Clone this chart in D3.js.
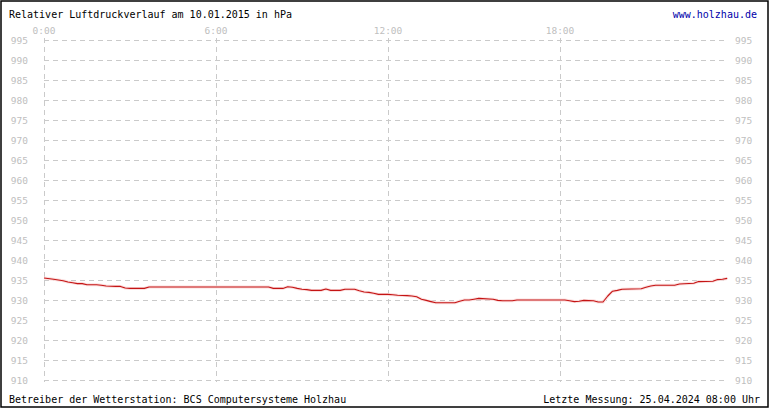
<!DOCTYPE html>
<html><head><meta charset="utf-8">
<script src="https://cdn.jsdelivr.net/npm/d3@7"></script>
<style>
html,body{margin:0;padding:0;background:#fff;}
svg{display:block;}
text{font-family:"DejaVu Sans Mono",monospace;}
</style></head>
<body>
<script>
const titleText = "Relativer Luftdruckverlauf am 10.01.2015 in hPa";
const siteText = "www.holzhau.de";
const footerLeft = "Betreiber der Wetterstation: BCS Computersysteme Holzhau";
const footerRight = "Letzte Messung: 25.04.2024 08:00 Uhr";
const xTickHours = [0, 6, 12, 18];
const xTickLabels = ["0:00", "6:00", "12:00", "18:00"];
const yTicks = [910,915,920,925,930,935,940,945,950,955,960,965,970,975,980,985,990,995];
const times = ["0:00","0:20","0:30","0:40","0:50","1:00","1:10","1:20","1:30","1:50","2:00","2:10","2:30","2:40","2:50","3:00","3:30","3:40","7:50","8:00","8:20","8:30","8:40","8:50","9:00","9:10","9:20","9:40","9:50","10:00","10:20","10:30","10:50","11:00","11:10","11:20","11:30","11:40","12:00","12:10","12:20","12:40","12:50","13:00","13:10","13:20","13:30","13:40","14:20","14:30","14:40","14:50","15:00","15:10","15:40","15:50","16:00","16:20","16:30","18:10","18:20","18:30","18:40","18:50","19:10","19:20","19:30","19:40","19:50","20:00","20:10","20:50","21:00","21:10","21:20","22:00","22:10","22:40","22:50","23:20","23:30","23:40","23:50"];
const pressure = [935.5,935.2,935.0,934.8,934.5,934.3,934.1,934.1,933.8,933.8,933.7,933.5,933.4,933.4,933.0,932.9,932.9,933.25,933.25,932.9,932.9,933.3,933.2,932.9,932.7,932.6,932.4,932.4,932.75,932.4,932.4,932.7,932.7,932.3,932.0,931.9,931.7,931.4,931.4,931.3,931.2,931.1,931.0,930.8,930.2,929.9,929.6,929.3,929.3,929.7,930.0,930.0,930.2,930.4,930.2,929.9,929.8,929.8,930.0,930.0,929.8,929.6,929.7,929.9,929.8,929.5,929.5,931.0,932.2,932.4,932.7,932.8,933.2,933.5,933.7,933.7,934.0,934.2,934.6,934.7,935.1,935.2,935.4];

const W = 770, H = 410;
const svg = d3.select("body").append("svg").attr("width", W).attr("height", H);
svg.append("rect").attr("x",1).attr("y",1).attr("width",767).attr("height",406)
  .attr("fill","#fff").attr("stroke","#000").attr("stroke-width",1.5);

const toHours = s => { const [h,m] = s.split(":").map(Number); return h + m/60; };
const x = d3.scaleLinear().domain([0, 24]).range([44, 732]);
const y = d3.scaleLinear().domain([910, 995]).range([380, 40]);
const xEnd = 727;

const grid = svg.append("g").attr("stroke","#cacaca").attr("stroke-width",1).attr("stroke-dasharray","5,4").attr("fill","none");
yTicks.forEach(v => {
  grid.append("line").attr("x1",x(0)).attr("x2",xEnd).attr("y1",Math.round(y(v))+0.5).attr("y2",Math.round(y(v))+0.5);
});
xTickHours.forEach(h => {
  grid.append("line").attr("x1",Math.round(x(h))+0.5).attr("x2",Math.round(x(h))+0.5).attr("y1",y(995)-2).attr("y2",y(910)+2);
});

const lab = svg.append("g").attr("fill","#c0c0c0").style("font-size","9.5px");
yTicks.forEach(v => {
  lab.append("text").attr("x",28).attr("y",y(v)+3.5).attr("text-anchor","end").text(v);
  lab.append("text").attr("x",735).attr("y",y(v)+3.5).attr("text-anchor","start").text(v);
});
xTickHours.forEach((h,i) => {
  lab.append("text").attr("x",x(h)).attr("y",34).attr("text-anchor","middle").text(xTickLabels[i]);
});

const pts = times.map((t,i) => [toHours(t), pressure[i]]);
const line = d3.line().x(d => x(d[0])).y(d => y(d[1]));
svg.append("path").datum(pts).attr("d", line).attr("fill","none")
  .attr("stroke","#fbdede").attr("stroke-width",3).attr("stroke-linejoin","round");
svg.append("path").datum(pts).attr("d", line).attr("fill","none")
  .attr("stroke","#c41414").attr("stroke-width",1.1).attr("stroke-linejoin","round");

svg.append("text").attr("x",9).attr("y",18).attr("fill","#000").style("font-size","10px").text(titleText);
svg.append("text").attr("x",757).attr("y",18).attr("fill","#0000aa").attr("text-anchor","end").style("font-size","10px").text(siteText);
svg.append("text").attr("x",9).attr("y",403).attr("fill","#000").style("font-size","10px").text(footerLeft);
svg.append("text").attr("x",760).attr("y",403).attr("fill","#000").attr("text-anchor","end").style("font-size","10px").text(footerRight);
</script>
</body></html>
